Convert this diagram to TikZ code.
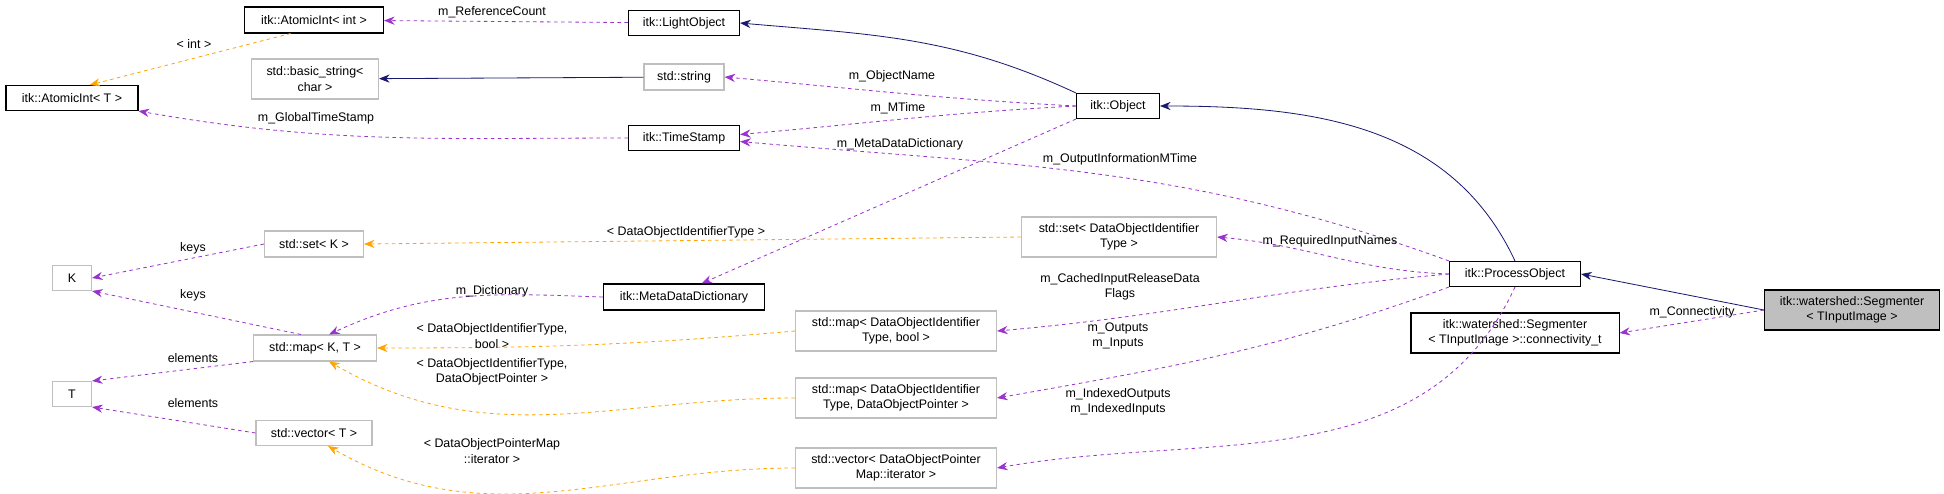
\documentclass[tikz,border=0pt]{standalone}
\usepackage{fontspec}
\setmainfont{Liberation Sans}
\usetikzlibrary{arrows.meta}
\definecolor{inhcol}{HTML}{191970}
\definecolor{usecol}{HTML}{9A32CD}
\definecolor{tplcol}{HTML}{FFA500}
\tikzset{
  box/.style={draw, line width=0.9pt, inner sep=1pt, align=center, font=\fontsize{10.6}{13.2}\selectfont},
  ext/.style={box, draw=black!25},
  inh/.style={draw=inhcol, -{Stealth[length=9pt,width=7pt]}, line width=0.7pt},
  use/.style={draw=usecol, dashed, -{Stealth[length=9pt,width=7pt]}, line width=0.7pt},
  tpl/.style={draw=tplcol, dashed, -{Stealth[length=9pt,width=7pt]}, line width=0.7pt},
  lbl/.style={align=center, font=\fontsize{10.6}{13.2}\selectfont}
}

\begin{document}
\begin{tikzpicture}[x=0.03cm, y=-0.03cm]
    \useasboundingbox (0,0) rectangle (1944,493);

    % Classes
    \node[box, minimum width=4.17cm, minimum height=0.78cm] (aiint) at (314,20) {itk::AtomicInt\textless{} int \textgreater};
    \node[box, minimum width=3.33cm, minimum height=0.75cm] (light) at (684,23) {itk::LightObject};
    \node[ext, minimum width=3.81cm, minimum height=1.2cm] (bstr) at (315,79) {std::basic\_string\textless\\char \textgreater};
    \node[ext, minimum width=2.4cm, minimum height=0.78cm] (str) at (684,77) {std::string};
    \node[box, minimum width=3.96cm, minimum height=0.75cm] (aiT) at (72,98) {itk::AtomicInt\textless{} T \textgreater};
    \node[box, minimum width=3.33cm, minimum height=0.75cm] (stamp) at (684,138) {itk::TimeStamp};
    \node[box, minimum width=2.49cm, minimum height=0.75cm] (obj) at (1118,106) {itk::Object};
    \node[ext, minimum width=2.97cm, minimum height=0.78cm] (setK) at (314,244) {std::set\textless{} K \textgreater};
    \node[ext, minimum width=1.17cm, minimum height=0.75cm] (K) at (72,278) {K};
    \node[box, minimum width=4.83cm, minimum height=0.78cm] (mdd) at (684,297) {itk::MetaDataDictionary};
    \node[ext, minimum width=5.85cm, minimum height=1.2cm] (setDOI) at (1119,237) {std::set\textless{} DataObjectIdentifier\\Type \textgreater};
    \node[ext, minimum width=3.69cm, minimum height=0.78cm] (mapKT) at (315,348) {std::map\textless{} K, T \textgreater};
    \node[ext, minimum width=1.17cm, minimum height=0.75cm] (T) at (72,394) {T};
    \node[ext, minimum width=3.48cm, minimum height=0.75cm] (vecT) at (314,433) {std::vector\textless{} T \textgreater};
    \node[ext, minimum width=6.03cm, minimum height=1.2cm] (mapbool) at (896,331) {std::map\textless{} DataObjectIdentifier\\Type, bool \textgreater};
    \node[ext, minimum width=6.03cm, minimum height=1.2cm] (mapptr) at (896,398) {std::map\textless{} DataObjectIdentifier\\Type, DataObjectPointer \textgreater};
    \node[ext, minimum width=6.03cm, minimum height=1.2cm] (veciter) at (896,468) {std::vector\textless{} DataObjectPointer\\Map::iterator \textgreater};
    \node[box, minimum width=3.93cm, minimum height=0.75cm] (proc) at (1515,274) {itk::ProcessObject};
    \node[box, minimum width=6.24cm, minimum height=1.2cm] (conn) at (1515,333) {itk::watershed::Segmenter\\\textless{} TInputImage \textgreater::connectivity\_t};
    \node[box, fill=black!25, minimum width=5.25cm, minimum height=1.2cm] (seg) at (1852,310) {itk::watershed::Segmenter\\\textless{} TInputImage \textgreater};

    % Inheritance
    \draw[inh] (seg.west) -- (proc.east);
    \draw[inh] (proc.north) to[out=115, in=0] (obj.east);
    \draw[inh] (obj.north west) to[out=155, in=-5] (light.east);
    \draw[inh] (str) -- (bstr);

    % Members
    \draw[use] (light) -- (aiint);
    \draw[use] (stamp) to[out=180, in=-10] (aiT.south east);
    \draw[use] (obj.west) to[out=177, in=-5] (str.east);
    \draw[use] (obj.west) to[out=183, in=5] ([yshift=3pt]stamp.east);
    \draw[use] (obj.south west) -- ([xshift=15pt]mdd.north);
    \draw[use] (proc.north west) to[out=160, in=-5] ([yshift=-3pt]stamp.east);
    \draw[use] (proc.west) to[out=178, in=-5] (setDOI.east);
    \draw[use] (proc.west) to[out=185, in=5] (mapbool.east);
    \draw[use] (proc.south west) to[out=200, in=10] (mapptr.east);
    \draw[use] (proc.south) to[out=245, in=10] (veciter.east);
    \draw[use] (seg.west) -- (conn.east);
    \draw[use] (mdd.west) to[out=178, in=25] ([xshift=12pt]mapKT.north);
    \draw[use] (setK.west) -- (K.east);
    \draw[use] ([xshift=-12pt]mapKT.north) -- (K.south east);
    \draw[use] (mapKT.south west) -- (T.north east);
    \draw[use] (vecT.west) -- (T.south east);

    % Templates
    \draw[tpl] ([xshift=-20pt]aiint.south) -- ([xshift=15pt]aiT.north);
    \draw[tpl] (setDOI.west) -- (setK.east);
    \draw[tpl] (mapbool.west) to[out=185, in=0] (mapKT.east);
    \draw[tpl] (mapptr.west) to[out=180, in=-30] ([xshift=12pt]mapKT.south);
    \draw[tpl] (veciter.west) to[out=180, in=-30] ([xshift=12pt]vecT.south);

    % Labels
    \node[lbl] (lref) at (492,12) {m\_ReferenceCount};
    \node[lbl] (lint) at (194,44) {\textless{} int \textgreater};
    \node[lbl] (lgts) at (316,118) {m\_GlobalTimeStamp};
    \node[lbl] (lname) at (892,76) {m\_ObjectName};
    \node[lbl] (lmt) at (898,108) {m\_MTime};
    \node[lbl] (lmdd) at (900,144) {m\_MetaDataDictionary};
    \node[lbl] (loim) at (1120,159) {m\_OutputInformationMTime};
    \node[lbl] (lreq) at (1330,241) {m\_RequiredInputNames};
    \node[lbl] (lcache) at (1120,287) {m\_CachedInputReleaseData\\Flags};
    \node[lbl] (lout) at (1118,336) {m\_Outputs\\m\_Inputs};
    \node[lbl] (lidx) at (1118,402) {m\_IndexedOutputs\\m\_IndexedInputs};
    \node[lbl] (lconn) at (1692,312) {m\_Connectivity};
    \node[lbl] (ldoit) at (686,232) {\textless{} DataObjectIdentifierType \textgreater};
    \node[lbl] (ldict) at (492,291) {m\_Dictionary};
    \node[lbl] (lbool) at (492,336) {\textless{} DataObjectIdentifierType,\\bool \textgreater};
    \node[lbl] (lptr) at (492,372) {\textless{} DataObjectIdentifierType,\\DataObjectPointer \textgreater};
    \node[lbl] (liter) at (492,451) {\textless{} DataObjectPointerMap\\::iterator \textgreater};
    \node[lbl] (lk1) at (193,248) {keys};
    \node[lbl] (lk2) at (193,295) {keys};
    \node[lbl] (le1) at (193,358) {elements};
    \node[lbl] (le2) at (193,403) {elements};
\end{tikzpicture}
\end{document}
